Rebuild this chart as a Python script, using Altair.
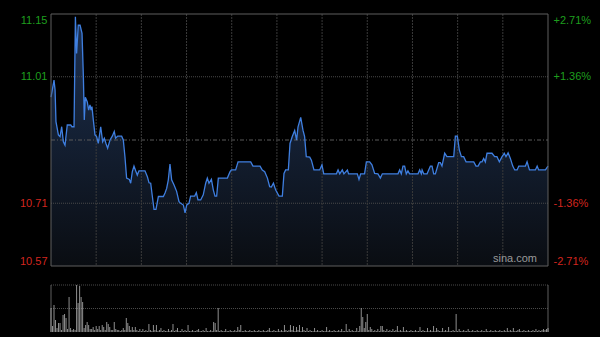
import altair as alt
import pandas as pd

PREV_CLOSE = 10.86
PCT_LIMIT = 2.71
PCT_TICKS = [2.71, 1.36, -1.36, -2.71]
GRID_MINUTES = [30, 60, 90, 120, 150, 180, 210, 240, 270, 300]
TOTAL_MINUTES = 330

minutes = [0.0, 2.0, 2.7, 3.3, 4.9, 6.0, 7.1, 8.2, 9.3, 10.8, 13.1, 13.9, 15.3, 16.2, 17.0, 18.1, 19.3, 20.6,
           21.5, 22.1, 22.8, 24.1, 25.0, 25.9, 26.6, 27.2, 28.1, 29.2, 30.3, 31.4, 33.0, 34.3, 35.4, 36.5, 37.6,
           39.2, 40.7, 42.0, 42.9, 44.3, 46.9, 48.0, 49.1, 50.2, 52.0, 52.9, 54.0, 55.1, 56.2, 57.3, 58.4, 62.4,
           64.0, 65.1, 66.2, 67.3, 68.4, 69.7, 71.3, 74.6, 75.7, 76.8, 77.9, 79.0, 80.1, 81.7, 83.4, 85.0, 86.1,
           87.9, 89.0, 90.1, 91.6, 92.7, 95.4, 96.5, 97.6, 99.4, 101.1, 102.7, 103.8, 104.9, 106.5, 107.8, 108.9,
           110.0, 111.1, 117.1, 118.9, 119.8, 122.6, 124.2, 132.6, 134.1, 138.8, 140.3, 141.9, 143.7, 145.2, 146.3,
           147.7, 149.2, 151.4, 153.6, 154.7, 155.8, 157.6, 158.7, 160.2, 161.8, 163.1, 164.0, 165.8, 167.3, 168.4,
           169.5, 171.8, 172.9, 174.6, 178.4, 179.9, 181.1, 189.5, 190.6, 191.7, 193.4, 194.5, 196.8, 197.6, 203.4,
           204.5, 205.6, 208.2, 209.4, 211.6, 213.1, 214.9, 217.1, 218.7, 220.0, 230.4, 231.5, 232.6, 233.7, 234.8,
           235.9, 237.0, 238.1, 243.7, 244.8, 245.9, 246.4, 247.5, 249.7, 251.9, 253.0, 254.1, 255.2, 257.4, 258.5,
           259.6, 261.4, 262.9, 267.4, 268.5, 269.8, 271.1, 272.5, 274.0, 275.6, 280.7, 282.2, 283.6, 285.1, 286.2,
           287.3, 288.4, 289.5, 292.8, 294.6, 296.1, 297.7, 299.5, 301.0, 302.1, 303.5, 305.0, 306.6, 307.9, 309.5,
           310.6, 315.0, 316.1, 317.7, 321.6, 322.8, 323.8, 328.3, 330.0]

prices = [10.960, 11.000, 10.977, 10.903, 10.872, 10.868, 10.891, 10.856, 10.848, 10.895, 10.895, 10.891, 10.891,
          11.148, 11.062, 11.128, 11.128, 11.109, 11.008, 10.907, 10.960, 10.949, 10.930, 10.942, 10.930, 10.938,
          10.907, 10.872, 10.868, 10.852, 10.891, 10.856, 10.864, 10.852, 10.841, 10.860, 10.869, 10.880, 10.864,
          10.869, 10.869, 10.860, 10.821, 10.771, 10.768, 10.759, 10.786, 10.799, 10.788, 10.778, 10.788, 10.788,
          10.774, 10.760, 10.759, 10.728, 10.698, 10.698, 10.728, 10.728, 10.736, 10.747, 10.767, 10.804, 10.767,
          10.755, 10.740, 10.716, 10.712, 10.708, 10.690, 10.708, 10.712, 10.729, 10.729, 10.737, 10.720, 10.720,
          10.732, 10.759, 10.771, 10.759, 10.768, 10.743, 10.729, 10.729, 10.771, 10.771, 10.786, 10.790, 10.790,
          10.809, 10.809, 10.799, 10.799, 10.790, 10.786, 10.771, 10.751, 10.750, 10.759, 10.743, 10.729, 10.729,
          10.782, 10.790, 10.790, 10.852, 10.868, 10.882, 10.860, 10.890, 10.913, 10.883, 10.868, 10.821, 10.820,
          10.813, 10.790, 10.790, 10.802, 10.781, 10.781, 10.790, 10.781, 10.790, 10.781, 10.790, 10.781, 10.781,
          10.768, 10.781, 10.781, 10.809, 10.809, 10.802, 10.782, 10.781, 10.771, 10.781, 10.781, 10.790, 10.781,
          10.799, 10.799, 10.781, 10.788, 10.781, 10.781, 10.790, 10.781, 10.790, 10.781, 10.781, 10.799, 10.799,
          10.781, 10.781, 10.807, 10.807, 10.799, 10.829, 10.821, 10.821, 10.869, 10.869, 10.837, 10.821, 10.821,
          10.809, 10.809, 10.799, 10.799, 10.809, 10.809, 10.817, 10.809, 10.829, 10.829, 10.821, 10.821, 10.809,
          10.821, 10.829, 10.821, 10.830, 10.817, 10.799, 10.790, 10.790, 10.799, 10.799, 10.809, 10.790, 10.790,
          10.799, 10.790, 10.790, 10.799]

volumes = [24, 6, 27, 12, 4, 9, 9, 2, 17, 18, 14, 3, 35, 4, 2, 3, 2, 47, 29, 46,
           35, 30, 4, 7, 10, 7, 3, 3, 5, 2, 6, 3, 6, 2, 7, 5, 2, 10, 8, 5,
           2, 2, 10, 3, 2, 2, 1, 2, 4, 2, 14, 9, 6, 2, 5, 2, 5, 2, 1, 3,
           1, 3, 1, 2, 1, 8, 2, 1, 7, 2, 7, 1, 2, 4, 1, 2, 1, 1, 3, 1,
           2, 8, 1, 2, 4, 1, 1, 3, 1, 2, 1, 7, 1, 1, 2, 1, 1, 2, 3, 1,
           1, 2, 1, 4, 1, 1, 2, 1, 10, 9, 2, 24, 1, 2, 1, 1, 3, 1, 1, 2,
           1, 1, 2, 1, 5, 2, 7, 1, 1, 2, 1, 1, 2, 1, 1, 2, 1, 1, 2, 1,
           1, 2, 1, 1, 2, 4, 1, 1, 2, 1, 1, 3, 1, 2, 1, 7, 2, 1, 2, 7,
           2, 6, 1, 5, 2, 7, 1, 5, 2, 1, 4, 1, 2, 1, 1, 4, 1, 2, 1, 1,
           2, 1, 1, 5, 1, 2, 1, 1, 2, 1, 1, 2, 1, 3, 1, 1, 8, 1, 3, 1,
           2, 1, 1, 4, 1, 6, 24, 15, 4, 10, 18, 2, 5, 3, 1, 2, 1, 3, 1, 6,
           6, 2, 1, 3, 1, 2, 1, 3, 1, 2, 6, 1, 2, 1, 5, 1, 2, 1, 1, 2,
           1, 1, 2, 1, 1, 5, 1, 2, 1, 1, 4, 1, 2, 1, 6, 1, 4, 2, 1, 1,
           4, 1, 2, 1, 5, 1, 1, 2, 1, 18, 1, 3, 1, 1, 2, 1, 1, 3, 1, 1,
           2, 1, 1, 2, 1, 1, 2, 1, 1, 3, 1, 1, 2, 1, 1, 2, 1, 1, 2, 1,
           1, 2, 1, 4, 1, 2, 1, 4, 1, 1, 2, 3, 1, 1, 2, 1, 1, 2, 1, 1,
           2, 1, 3, 1, 2, 1, 2, 3, 2, 3, 4]
VOL_MAX = 47

GREEN = "#1e9e1e"
RED = "#d3261f"
LINE = "#3f7fe0"
BORDER = "#5e5e5e"
GRID = "#4a4a4a"

hi = PREV_CLOSE * (1 + PCT_LIMIT / 100)
lo = PREV_CLOSE * (1 - PCT_LIMIT / 100)
price_levels = [PREV_CLOSE * (1 + p / 100) for p in PCT_TICKS]

price_df = pd.DataFrame({"minute": minutes, "price": prices, "base": [lo] * len(minutes)})
vol_df = pd.DataFrame({"minute": list(range(len(volumes))), "volume": volumes, "zero": [0] * len(volumes)})

xscale = alt.Scale(domain=[0, TOTAL_MINUTES], nice=False, zero=False)
price_scale = alt.Scale(domain=[lo, hi], range=[252, 0], nice=False, zero=False)
pct_scale = alt.Scale(domain=[-PCT_LIMIT, PCT_LIMIT], range=[252, 0], nice=False, zero=False)
vol_scale = alt.Scale(domain=[0, VOL_MAX], range=[318, 271], nice=False, zero=False)


def xq(field):
    return alt.X(field, type="quantitative", scale=xscale, axis=None)


left_axis = alt.Axis(
    orient="left", values=price_levels, format=".2f", labelFlush=True, ticks=False,
    domain=False, grid=False, title=None, labelPadding=4, labelFontSize=11,
    labelColor={"condition": {"test": f"datum.value > {PREV_CLOSE}", "value": GREEN}, "value": RED},
)
right_axis = alt.Axis(
    orient="right", values=PCT_TICKS, labelFlush=True, ticks=False, domain=False, grid=False,
    title=None, labelPadding=5, labelFontSize=11,
    labelExpr="(datum.value > 0 ? '+' : '-') + format(abs(datum.value), '.2f') + '%'",
    labelColor={"condition": {"test": "datum.value > 0", "value": GREEN}, "value": RED},
)

gradient = alt.Gradient(
    gradient="linear",
    stops=[alt.GradientStop(color="#1d3152", offset=0), alt.GradientStop(color="#0a0d12", offset=1)],
    x1=1, x2=1, y1=0, y2=1,
)

area = alt.Chart(price_df).mark_area(color=gradient).encode(
    x=xq("minute"),
    y=alt.Y("price:Q", scale=price_scale, axis=left_axis),
    y2="base:Q",
)

hgrid_df = pd.DataFrame({"pct": [PCT_TICKS[1], PCT_TICKS[2]], "x0": [0, 0], "x1": [TOTAL_MINUTES] * 2})
hgrid = alt.Chart(hgrid_df).mark_rule(color=GRID, strokeDash=[1, 1], strokeWidth=1).encode(
    x=xq("x0"), x2="x1:Q", y=alt.Y("pct:Q", scale=pct_scale, axis=right_axis)
)

mid_df = pd.DataFrame({"pct": [0], "x0": [0], "x1": [TOTAL_MINUTES]})
mid = alt.Chart(mid_df).mark_rule(color="#5a5a5a", strokeDash=[4, 2, 1, 2], strokeWidth=1).encode(
    x=xq("x0"), x2="x1:Q", y=alt.Y("pct:Q", scale=pct_scale, axis=None)
)

vgrid_df = pd.DataFrame({"minute": GRID_MINUTES, "top": [PCT_LIMIT] * len(GRID_MINUTES),
                         "bot": [-PCT_LIMIT] * len(GRID_MINUTES)})
vgrid = alt.Chart(vgrid_df).mark_rule(color="#3a3a3a", strokeDash=[2, 1], strokeWidth=1).encode(
    x=xq("minute"), y=alt.Y("top:Q", scale=pct_scale, axis=None), y2="bot:Q"
)

line = alt.Chart(price_df).mark_line(color=LINE, strokeWidth=1.3).encode(
    x=xq("minute"), y=alt.Y("price:Q", scale=price_scale, axis=None)
)

border_df = pd.DataFrame({"x0": [0], "x1": [TOTAL_MINUTES], "top": [PCT_LIMIT], "bot": [-PCT_LIMIT]})
border = alt.Chart(border_df).mark_rect(fillOpacity=0, stroke=BORDER, strokeWidth=1).encode(
    x=xq("x0"), x2="x1:Q", y=alt.Y("top:Q", scale=pct_scale, axis=None), y2="bot:Q"
)

volgrid_df = pd.DataFrame({"v": [VOL_MAX, VOL_MAX / 2], "x0": [0, 0], "x1": [TOTAL_MINUTES] * 2})
volgrid = alt.Chart(volgrid_df).mark_rule(color=GRID, strokeDash=[1, 1], strokeWidth=1).encode(
    x=xq("x0"), x2="x1:Q", y=alt.Y("v:Q", scale=vol_scale, axis=None)
)

volside_df = pd.DataFrame({"minute": [0, TOTAL_MINUTES], "top": [VOL_MAX] * 2, "bot": [0, 0]})
volside = alt.Chart(volside_df).mark_rule(color=BORDER, strokeWidth=1).encode(
    x=xq("minute"), y=alt.Y("top:Q", scale=vol_scale, axis=None), y2="bot:Q"
)

vol = alt.Chart(vol_df).mark_rule(color="#a8a8a8", strokeWidth=1, opacity=0.85).encode(
    x=xq("minute"), y=alt.Y("volume:Q", scale=vol_scale, axis=None), y2="zero:Q"
)

sina_df = pd.DataFrame({"t": ["sina.com"], "x": [TOTAL_MINUTES], "y": [-PCT_LIMIT]})
sina = alt.Chart(sina_df).mark_text(
    align="right", baseline="bottom", dx=-11, dy=-2, color="#9a9a9a", fontSize=11,
    font="Liberation Sans",
).encode(x=xq("x"), y=alt.Y("y:Q", scale=pct_scale, axis=None), text="t:N")

chart = alt.layer(
    area, hgrid, mid, vgrid, line, border, volgrid, volside, vol, sina
).resolve_scale(y="independent").properties(
    width=497, height=318,
    padding={"left": 51, "right": 52, "top": 14, "bottom": 5},
    autosize=alt.AutoSizeParams(type="none"),
    background="#000000",
).configure_view(stroke=None).configure_axis(labelFont="Liberation Sans")

chart.save("out.html", embed_options={"renderer": "svg", "actions": False})
